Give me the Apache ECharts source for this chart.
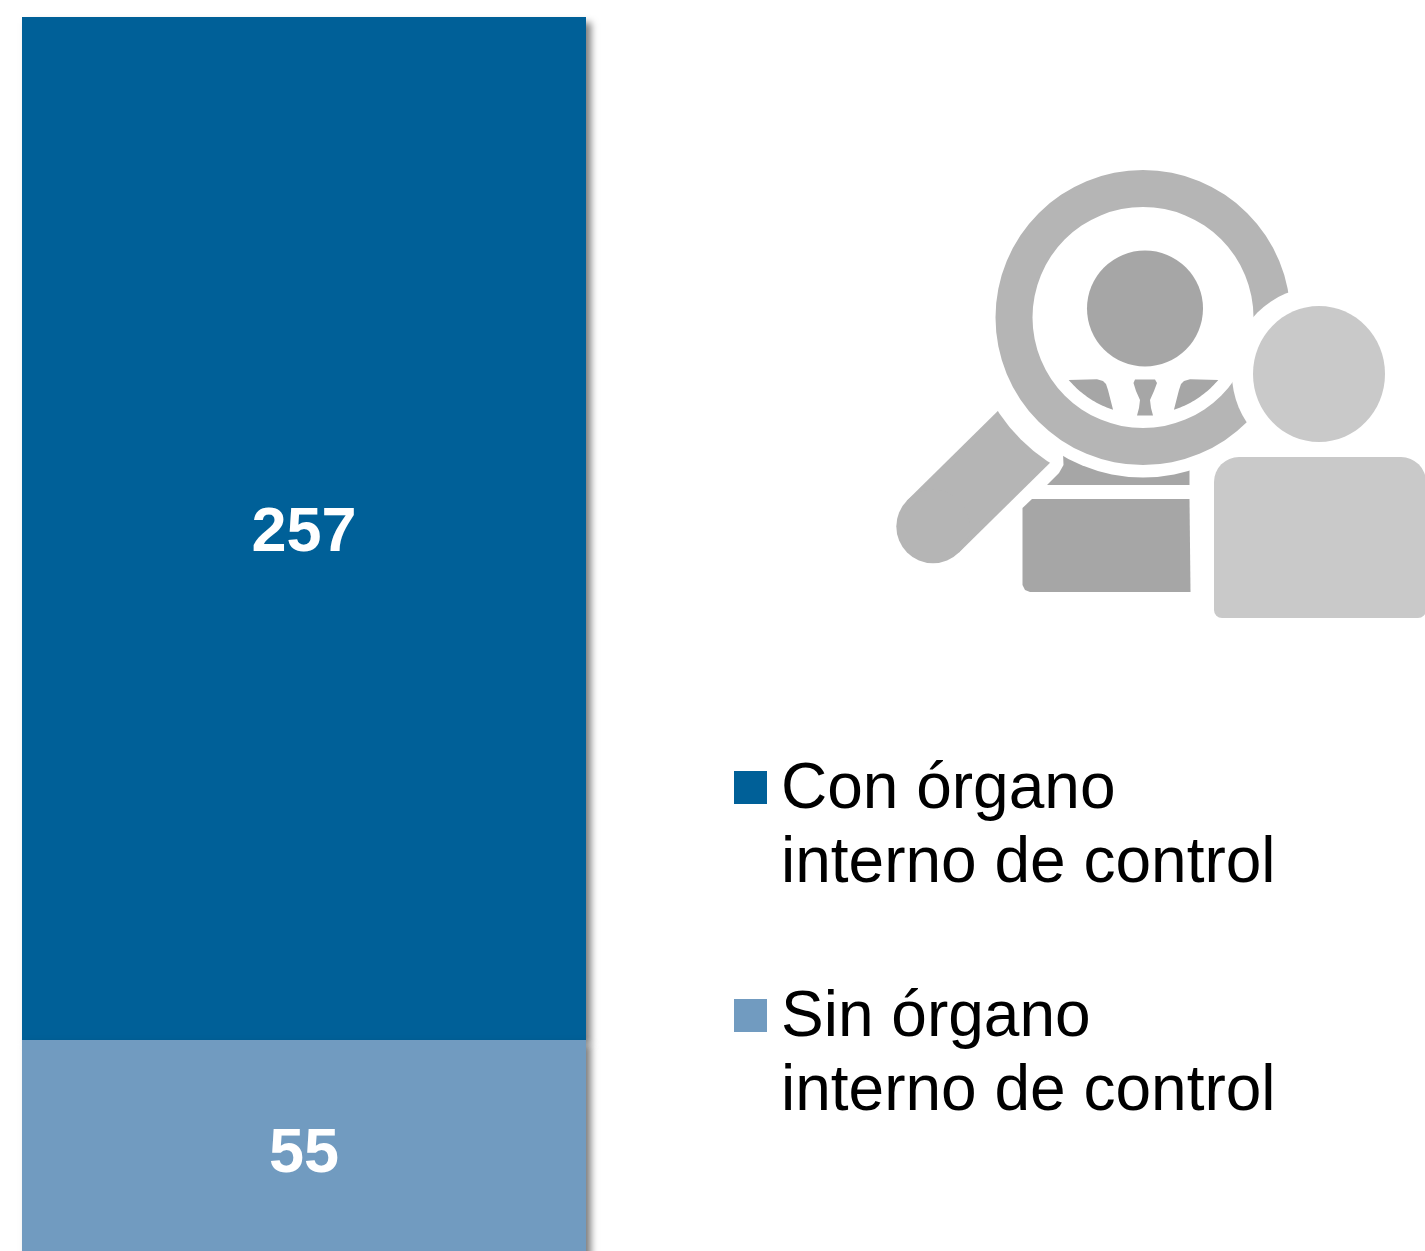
<!DOCTYPE html>
<html>
<head>
<meta charset="utf-8">
<style>html,body{margin:0;padding:0;background:#fff}#c{width:1425px;height:1251px}</style>
<script src="https://cdn.jsdelivr.net/npm/echarts@6/dist/echarts.min.js"></script>
</head>
<body>
<div id="c"></div>
<script>
const categories = ['Órganos'];
const conOrgano = [257];
const sinOrgano = [55];
const nameCon = 'Con órgano\ninterno de control';
const nameSin = 'Sin órgano\ninterno de control';
const colorCon = '#006098';
const colorSin = '#719bc0';

const FONT = '"Liberation Sans", Arial, sans-serif';
const cx = 1143, cy = 317.5;
const RING = '#b5b5b5', DARK = '#a6a6a6', LIGHT = '#c9c9c9';

function arcPts(r, a0, a1) {
  const pts = [], n = 24;
  for (let i = 0; i <= n; i++) {
    const a = (a0 + (a1 - a0) * i / n) * Math.PI / 180;
    pts.push([cx + r * Math.cos(a), cy + r * Math.sin(a)]);
  }
  return pts;
}
const angL0 = Math.atan2(410 - cy, 1113 - cx) * 180 / Math.PI;
const angL1 = Math.atan2(380 - cy, 1068.7 - cx) * 180 / Math.PI;
const leftSpoke = [[1068.7, 380], [1097, 379.3], [1103, 381], [1106, 384], [1108, 390]].concat(arcPts(97, angL0, angL1).slice(0, -1));
const rightSpoke = leftSpoke.map(p => [2 * cx + 1 - p[0], p[1]]);
const keyhole = [[1135, 379.5], [1155, 379.5], [1157, 383], [1154, 391], [1150, 400], [1151, 408], [1153, 415.5], [1137, 415.5], [1139, 408], [1140, 400], [1136, 391], [1133.5, 383]];

const g = (type, shape, fill) => ({ type, shape, style: { fill }, silent: true });
const icon = [
  g('polygon', { points: [[1009, 400], [1061, 452], [959, 552.5], [907, 500.5]] }, RING),
  g('circle', { cx: 933, cy: 526.5, r: 36.7 }, RING),
  g('circle', { cx, cy, r: 172.7 }, '#fff'),
  g('polygon', { points: [[1062.5, 440], [1189.5, 440], [1189.5, 485], [1047, 485], [1059, 473], [1063.5, 465]] }, DARK),
  g('circle', { cx, cy, r: 160 }, '#fff'),
  g('ring', { cx, cy, r: 147.5, r0: 110.5 }, RING),
  g('circle', { cx: 1145, cy: 308.5, r: 58 }, DARK),
  g('polygon', { points: leftSpoke }, DARK),
  g('polygon', { points: rightSpoke }, DARK),
  g('polygon', { points: keyhole }, DARK),
  g('polygon', { points: [[1032, 499], [1189.5, 499], [1190.5, 592], [1030, 592], [1025, 590], [1022.5, 585], [1022.5, 508]] }, DARK),
  g('circle', { cx: 1319, cy: 374, r: 87 }, '#fff'),
  g('ellipse', { cx: 1319, cy: 374, rx: 66, ry: 68 }, LIGHT),
  g('rect', { x: 1214, y: 457, width: 212, height: 161, r: [25, 25, 8, 8] }, LIGHT)
];

const shadow = { shadowColor: 'rgba(0,0,0,0.5)', shadowBlur: 7, shadowOffsetX: 5, shadowOffsetY: 5 };
const label = { show: true, position: 'inside', offset: [0, 5], color: '#fff', fontFamily: FONT, fontWeight: 'bold', fontSize: 63 };

const chart = echarts.init(document.getElementById('c'), null, { renderer: 'canvas' });
chart.setOption({
  animation: false,
  backgroundColor: '#fff',
  grid: { left: 22, top: 17, width: 564, height: 1242, outerBoundsMode: 'none' },
  xAxis: { type: 'category', data: categories, show: false },
  yAxis: { type: 'value', min: 0, max: 312, show: false },
  legend: {
    left: 734, top: 753, orient: 'vertical', align: 'left', padding: 0,
    itemWidth: 33, itemHeight: 148, itemGap: 80, selectedMode: false,
    icon: 'path://M0 18H33V51H0Z M0 0L0 0 M0 148L0 148',
    itemStyle: { shadowBlur: 0, shadowOffsetX: 0, shadowOffsetY: 0, shadowColor: 'transparent' },
    textStyle: { fontFamily: FONT, fontSize: 64, lineHeight: 74, color: '#000', padding: [0, 0, 0, 9] },
    data: [nameCon, nameSin]
  },
  graphic: { elements: icon },
  series: [
    { name: nameSin, type: 'bar', stack: 'a', z: 3, barWidth: '100%', data: sinOrgano,
      itemStyle: Object.assign({ color: colorSin }, shadow), label },
    { name: nameCon, type: 'bar', stack: 'a', z: 2, barWidth: '100%', data: conOrgano,
      itemStyle: Object.assign({ color: colorCon }, shadow), label }
  ]
});
</script>
</body>
</html>
